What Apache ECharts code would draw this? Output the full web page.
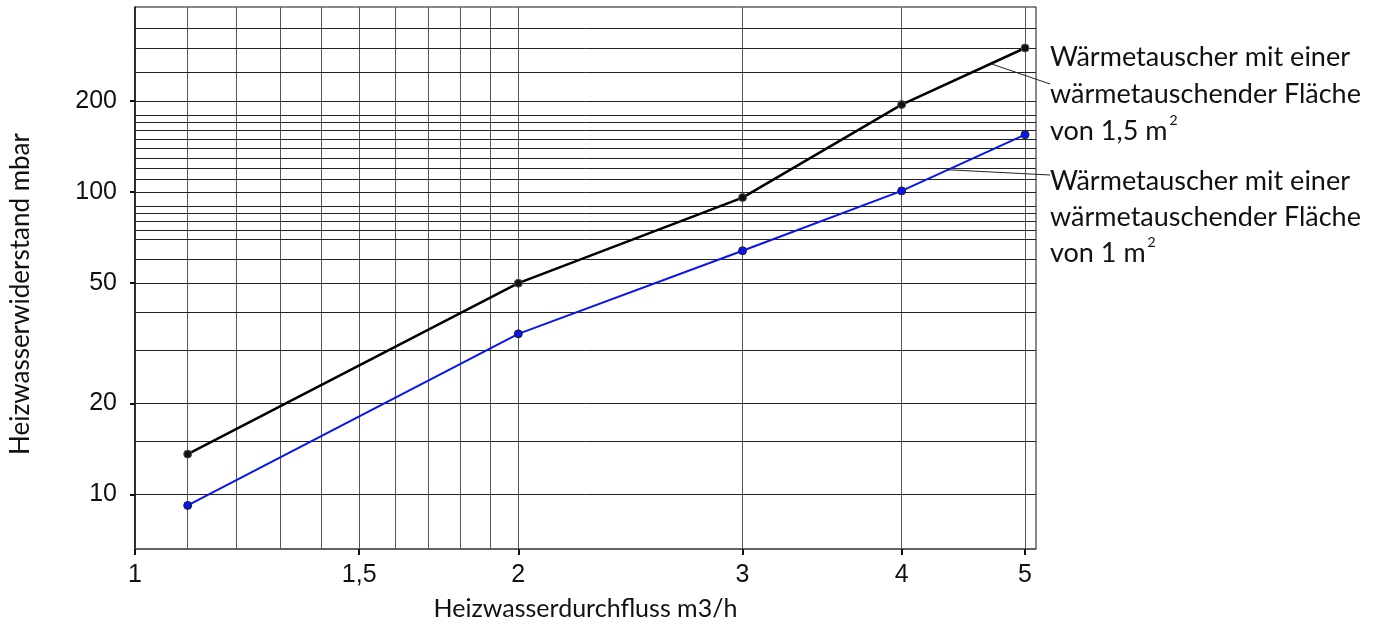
<!DOCTYPE html>
<html>
<head>
<meta charset="utf-8">
<script src="https://cdn.jsdelivr.net/npm/echarts@6/dist/echarts.min.js"></script>
<style>
html,body{margin:0;padding:0;background:#fff;}
#chart{width:1382px;height:627px;}
</style>
</head>
<body>
<div id="chart"></div>
<script>
// ---- data ----
const xTicks = [1, 1.5, 2, 3, 4, 5];
const yTicks = [10, 20, 50, 100, 200];
const xGrid = [1.1, 1.2, 1.3, 1.4, 1.5, 1.6, 1.7, 1.8, 1.9, 2, 3, 4, 5];
const yGrid = [10, 15, 20, 30, 40, 50, 60, 70, 75, 80, 85, 90, 100, 110, 120, 130, 140, 150, 160, 170, 180, 200, 250, 300, 350];
const flow = [1.1, 2, 3, 4, 5];
const resistance15 = [13.6, 50, 96, 195, 300];
const resistance10 = [9.2, 34, 64, 101, 155];
const label15 = 'Wärmetauscher mit einer\nwärmetauschender Fläche\nvon 1,5 m{sup|2}';
const label10 = 'Wärmetauscher mit einer\nwärmetauschender Fläche\nvon 1 m{sup|2}';
const xName = 'Heizwasserdurchfluss m3/h';
const yName = 'Heizwasserwiderstand mbar';

const chart = echarts.init(document.getElementById('chart'));
const labelFont = 'Liberation Sans';
const textFont = 'Lato';

const gridLines = [];
xGrid.forEach(v => gridLines.push({ xAxis: v, lineStyle: { color: '#555', width: 1, type: 'solid' } }));
yGrid.forEach(v => gridLines.push({ yAxis: v, lineStyle: { color: '#222', width: 1, type: 'solid' } }));

function pair(xs, ys) { return xs.map((x, i) => [x, ys[i]]); }

const option = {
  animation: false,
  backgroundColor: '#fff',
  grid: { left: 135, right: 346, top: 7, bottom: 78, show: true, borderColor: '#111', borderWidth: 1, backgroundColor: 'transparent', outerBoundsMode: 'none' },
  xAxis: {
    type: 'log', logBase: 10, min: 1, max: 5.1,
    name: xName, nameLocation: 'middle', nameGap: 47,
    nameTextStyle: { fontFamily: textFont, fontSize: 25, color: '#111' },
    axisLine: { show: true, lineStyle: { color: '#555', width: 1.5 } },
    axisTick: { show: true, inside: false, length: 6, customValues: xTicks, lineStyle: { color: '#111', width: 2 } },
    axisLabel: { show: true, customValues: xTicks, margin: 14, fontFamily: labelFont, fontSize: 25, color: '#111',
      formatter: v => String(Math.round(v * 10) / 10).replace('.', ',') },
    splitLine: { show: false }, minorTick: { show: false }, minorSplitLine: { show: false }
  },
  yAxis: {
    type: 'log', logBase: 10, min: 6.6, max: 410,
    axisLine: { show: true, lineStyle: { color: '#111', width: 1.5 } },
    axisTick: { show: true, inside: false, length: 5, customValues: yTicks, lineStyle: { color: '#111', width: 2 } },
    axisLabel: { show: true, customValues: yTicks, margin: 18, fontFamily: labelFont, fontSize: 25, color: '#111',
      formatter: v => String(Math.round(v)) },
    splitLine: { show: false }, minorTick: { show: false }, minorSplitLine: { show: false }
  },
  series: [
    {
      type: 'line', data: [], z: 1, silent: true,
      markLine: { silent: true, symbol: ['none', 'none'], label: { show: false }, emphasis: { disabled: true }, animation: false, data: gridLines }
    },
    {
      name: 'Fläche 1,5 m²', type: 'line', data: pair(flow, resistance15), z: 5,
      symbol: 'circle', symbolSize: 8, showSymbol: true,
      lineStyle: { color: '#000', width: 2.5 },
      itemStyle: { color: '#111', borderColor: '#555', borderWidth: 1 }
    },
    {
      name: 'Fläche 1 m²', type: 'line', data: pair(flow, resistance10), z: 5,
      symbol: 'circle', symbolSize: 8, showSymbol: true,
      lineStyle: { color: '#0a14ee', width: 2 },
      itemStyle: { color: '#0a14ee', borderColor: '#222', borderWidth: 1 }
    }
  ]
};
chart.setOption(option);

// leader line anchors on the curves (log-log interpolation between data points)
function interp(xs, ys, x) {
  for (let i = 0; i < xs.length - 1; i++) {
    if (x >= xs[i] && x <= xs[i + 1]) {
      const t = Math.log(x / xs[i]) / Math.log(xs[i + 1] / xs[i]);
      return ys[i] * Math.pow(ys[i + 1] / ys[i], t);
    }
  }
  return ys[ys.length - 1];
}
const a15 = chart.convertToPixel({ gridIndex: 0 }, [4.7, interp(flow, resistance15, 4.7)]);
const a10 = chart.convertToPixel({ gridIndex: 0 }, [4.35, interp(flow, resistance10, 4.35)]);

const rich = { sup: { fontSize: 14, fontFamily: textFont, color: '#111', verticalAlign: 'top', padding: [0, 0, 14, 2], lineHeight: 37 } };
chart.setOption({
  graphic: [
    { type: 'line', silent: true, z: 10, shape: { x1: a15[0], y1: a15[1], x2: 1050, y2: 84 }, style: { stroke: '#222', lineWidth: 1 } },
    { type: 'line', silent: true, z: 10, shape: { x1: a10[0], y1: a10[1], x2: 1050, y2: 175 }, style: { stroke: '#222', lineWidth: 1 } },
    { type: 'text', left: 1050, top: 39, silent: true, z: 10,
      style: { text: label15, fontFamily: textFont, fontSize: 27, lineHeight: 37, fill: '#111', rich: rich } },
    { type: 'text', left: 1050, top: 163, silent: true, z: 10,
      style: { text: label10, fontFamily: textFont, fontSize: 27, lineHeight: 36, fill: '#111', rich: rich } },
    { type: 'text', x: 21, y: 294, rotation: Math.PI / 2, silent: true, z: 10,
      style: { text: yName, fontFamily: textFont, fontSize: 26, fill: '#111', align: 'center', verticalAlign: 'middle' } }
  ]
});
</script>
</body>
</html>
